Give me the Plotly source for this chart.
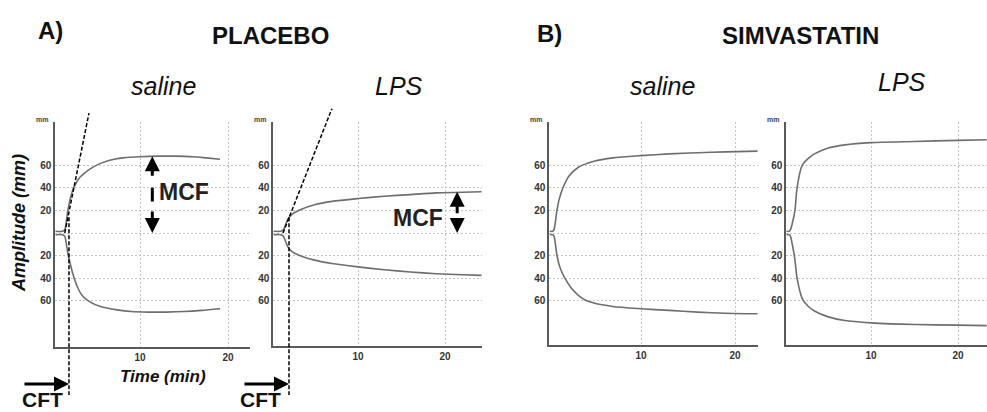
import plotly.graph_objects as go

W, H = 987, 412
FONT = "Liberation Sans, Arial, sans-serif"

# ---------------- data (time in min, amplitude in mm) ----------------
# A) placebo / saline
pl_sal_t  = [0.4, 1.2, 1.45, 1.8, 2.1, 2.4, 2.8, 3.2, 3.7, 4.3, 5.2, 6.2, 7.2, 8.1, 10.0, 12.0, 14.0, 16.0, 17.5, 19.1]
pl_sal_up = [1.5, 1.5, 3, 20, 31, 39, 45, 49.5, 53, 56.5, 60.5, 63.5, 65.5, 66.5, 67.5, 68, 68, 67.5, 66.5, 65.3]
pl_sal_lo_t = [0.4, 1.2, 1.45, 1.8, 2.1, 2.4, 2.9, 3.4, 4.3, 5.5, 7.4, 9.0, 11.0, 13.0, 15.0, 17.0, 19.1]
pl_sal_lo = [-1.5, -1.5, -3, -18, -28, -37, -48, -55, -61, -65, -68, -69.5, -70, -70, -69.5, -68.5, -67]
# A) placebo / LPS
pl_lps_t  = [0.3, 1.1, 1.4, 1.7, 2.0, 2.5, 3.5, 5.0, 7.0, 10.0, 13.0, 16.0, 19.0, 22.0, 24.2]
pl_lps_up = [1.5, 1.5, 2.5, 8, 13, 17, 21, 25, 28, 30.5, 32.5, 34, 35.5, 36, 36.5]
pl_lps_lo = [-1.5, -1.5, -2.5, -8, -13, -17, -20.5, -24, -27, -30, -32.5, -34.5, -36, -37, -37.5]
# B) simvastatin / saline
sv_sal_t  = [0.3, 0.6, 0.75, 1.06, 1.3, 1.7, 2.3, 3.3, 5.0, 7.0, 10.0, 13.0, 16.0, 19.0, 22.4]
sv_sal_up = [1.5, 1.5, 3, 20, 30, 40, 50, 58, 63.5, 66.5, 68.5, 70, 71, 71.8, 72.5]
sv_sal_lo_t = [0.3, 0.6, 0.75, 0.9, 1.06, 1.4, 1.9, 2.6, 3.3, 4.0, 5.0, 7.0, 10.0, 13.0, 16.0, 19.0, 22.4]
sv_sal_lo = [-1.5, -1.5, -3, -10, -20, -31, -40, -49, -55, -59, -62, -65, -67, -68.5, -70, -71, -71.5]
# B) simvastatin / LPS
sv_lps_t  = [0.3, 0.6, 0.75, 1.0, 1.26, 1.5, 2.1, 2.8, 3.5, 5.0, 7.0, 10.0, 15.0, 20.0, 23.3]
sv_lps_up = [1.5, 1.5, 3, 10, 20, 40, 60, 66, 70, 75, 78, 80, 81, 82, 82.5]
sv_lps_lo = [-1.5, -1.5, -3, -12, -24, -40, -58, -65, -69, -74, -77.5, -79.5, -81, -81.5, -82]

# CFT construction (placebo panels): tangent line, CFT end time, MCF arrow time
tan_t = [[1.45, 4.2], [1.38, 7.0]]
tan_a = [[0, 106], [0, 110]]
cft_end = [1.93, 2.07]
cft_top = [14, 14]
mcf_t = [11.4, 21.4]

x_ticks = [10, 20]
x_ticktext = ["10", "20"]
y_ticks = [-60, -40, -20, 0, 20, 40, 60]
y_ticktext = ["60", "40", "20", "", "20", "40", "60"]

group_titles = ["PLACEBO", "SIMVASTATIN"]
group_tags = ["A)", "B)"]
panel_titles = ["saline", "LPS", "saline", "LPS"]

# ---------------- layout geometry (pixels) ----------------
CY, PPMM = 233, 1.13
panels = [
    dict(xl=55, xr=250, yt=122, yb=347, t0=52, ppm=8.8),
    dict(xl=273, xr=482, yt=122, yb=346, t0=271, ppm=8.7),
    dict(xl=549, xr=758, yt=122, yb=345, t0=547, ppm=9.4),
    dict(xl=786, xr=987, yt=122, yb=345, t0=784, ppm=8.7),
]
series = [
    (pl_sal_t, pl_sal_up, pl_sal_lo_t, pl_sal_lo),
    (pl_lps_t, pl_lps_up, pl_lps_t, pl_lps_lo),
    (sv_sal_t, sv_sal_up, sv_sal_lo_t, sv_sal_lo),
    (sv_lps_t, sv_lps_up, sv_lps_t, sv_lps_lo),
]

def px(x):
    return x / W

def py(y):
    return 1 - y / H

def label(text, x, y, size, color="#111", **kw):
    d = dict(text=text, x=px(x), y=py(y), xref="paper", yref="paper", showarrow=False,
             xanchor="center", yanchor="middle", font=dict(size=size, color=color))
    d.update(kw)
    return d

fig = go.Figure()
layout = dict(
    width=W, height=H, margin=dict(l=0, r=0, t=0, b=0, pad=0),
    paper_bgcolor="white", plot_bgcolor="rgba(0,0,0,0)", showlegend=False,
    font=dict(family=FONT, color="#222"),
)

LINE_COL = "#6e6e6e"
AX_COL = "#5a5a5a"
GRID_COL = "#c4c4c4"
ann = []

for i, p in enumerate(panels):
    n = i + 1
    xr0 = (p["xl"] - p["t0"]) / p["ppm"]
    xr1 = (p["xr"] - p["t0"]) / p["ppm"]
    yr0 = -(p["yb"] - CY) / PPMM
    yr1 = (CY - p["yt"]) / PPMM
    xd = [px(p["xl"]), px(p["xr"])]
    layout[f"xaxis{n}"] = dict(
        domain=xd, range=[xr0, xr1], anchor=f"y{n}",
        showline=True, linecolor=AX_COL, linewidth=1.5,
        tickvals=x_ticks, ticktext=x_ticktext, ticks="",
        tickfont=dict(size=10, color="#333", weight="bold"),
        showgrid=True, gridcolor=GRID_COL, griddash="2px,2px", gridwidth=1,
        zeroline=False, fixedrange=True,
    )
    layout[f"yaxis{n}"] = dict(
        domain=[py(p["yb"]), py(p["yt"])], range=[yr0, yr1], anchor=f"x{n}",
        showline=True, linecolor=AX_COL, linewidth=1.5,
        tickvals=y_ticks, ticktext=y_ticktext, ticks="",
        tickfont=dict(size=10, color="#333", weight="bold"),
        showgrid=True, gridcolor=GRID_COL, griddash="2px,2px", gridwidth=1,
        zeroline=False, fixedrange=True,
    )
    # hidden full-height overlay (same time & mm scale) for constructions outside the plot box
    m = n + 4
    layout[f"xaxis{m}"] = dict(domain=xd, range=[xr0, xr1], anchor=f"y{m}", visible=False, fixedrange=True)
    layout[f"yaxis{m}"] = dict(domain=[0, 1], range=[-(H - CY) / PPMM, CY / PPMM], anchor=f"x{m}",
                               visible=False, fixedrange=True)

    tu, up, tl, lo = series[i]
    for tt, yy in ((tu, up), (tl, lo)):
        fig.add_trace(go.Scatter(
            x=tt, y=yy, mode="lines", xaxis=f"x{n}", yaxis=f"y{n}",
            line=dict(color=LINE_COL, width=1.6, shape="spline", smoothing=0.7),
            hoverinfo="skip",
        ))
    # "mm" unit label
    ann.append(label("<b>mm</b>", p["xl"] - 13, 120, 7, color="#444"))

# CFT / MCF constructions on placebo panels
cft_text_x = [42, 260]
mcf_text = [(184, 192), (418, 218)]
for k in range(2):
    m = k + 5
    n = k + 1
    fig.add_trace(go.Scatter(
        x=tan_t[k], y=tan_a[k], mode="lines", xaxis=f"x{m}", yaxis=f"y{m}",
        line=dict(color="black", width=1.5, dash="4px,2px"), hoverinfo="skip"))
    fig.add_trace(go.Scatter(
        x=[cft_end[k], cft_end[k]], y=[cft_top[k], -(395 - CY) / PPMM], mode="lines",
        xaxis=f"x{m}", yaxis=f"y{m}",
        line=dict(color="black", width=1.5, dash="4px,2px"), hoverinfo="skip"))
    # CFT arrow
    ann.append(dict(text="", x=cft_end[k], y=-(384 - CY) / PPMM, xref=f"x{m}", yref=f"y{m}",
                    ax=-46, ay=0, showarrow=True, arrowhead=2, arrowsize=1, arrowwidth=3,
                    arrowcolor="black"))
    ann.append(label("<b>CFT</b>", cft_text_x[k], 399, 21))
    # MCF arrows
    mcf = max(series[k][1])
    if k == 0:
        ann.append(dict(text="", x=mcf_t[k], y=mcf, xref=f"x{n}", yref=f"y{n}", ax=0, ay=21,
                        showarrow=True, arrowhead=2, arrowsize=1, arrowwidth=3, arrowcolor="black"))
        ann.append(dict(text="", x=mcf_t[k], y=0, xref=f"x{n}", yref=f"y{n}", ax=0, ay=-23,
                        showarrow=True, arrowhead=2, arrowsize=1, arrowwidth=3, arrowcolor="black"))
        fig.add_trace(go.Scatter(
            x=[mcf_t[k], mcf_t[k]], y=[mcf * 0.59, mcf * 0.41], mode="lines",
            xaxis=f"x{n}", yaxis=f"y{n}", line=dict(color="black", width=3), hoverinfo="skip"))
    else:
        ann.append(dict(text="", x=mcf_t[k], y=mcf, xref=f"x{n}", yref=f"y{n}", ax=0, ay=23,
                        showarrow=True, arrowhead=2, arrowsize=1, arrowwidth=3, arrowcolor="black"))
        ann.append(dict(text="", x=mcf_t[k], y=0, xref=f"x{n}", yref=f"y{n}", ax=0, ay=-10,
                        showarrow=True, arrowhead=2, arrowsize=1, arrowwidth=3, arrowcolor="black"))
    ann.append(label("<b>MCF</b>", mcf_text[k][0], mcf_text[k][1], 23, color="#222"))

# titles
for (txt, x, y, size, style) in [
    (group_tags[0], 50, 31, 24, "b"),
    (group_titles[0], 270, 36, 24, "b"),
    (group_tags[1], 549, 34, 24, "b"),
    (group_titles[1], 800, 36, 24, "b"),
    (panel_titles[0], 163, 86, 25, "i"),
    (panel_titles[1], 399, 86, 25, "i"),
    (panel_titles[2], 662, 86, 25, "i"),
    (panel_titles[3], 902, 82, 25, "i"),
]:
    ann.append(label(f"<{style}>{txt}</{style}>", x, y, size))

ann.append(label("<b><i>Time (min)</i></b>", 163, 376, 17))
ann.append(label("<b><i>Amplitude (mm)</i></b>", 19, 223, 18, textangle=-90))

layout["annotations"] = ann
fig.update_layout(**layout)
fig.write_html("out.html", config={"displayModeBar": False},
               post_script="document.body.style.margin='0px';")
